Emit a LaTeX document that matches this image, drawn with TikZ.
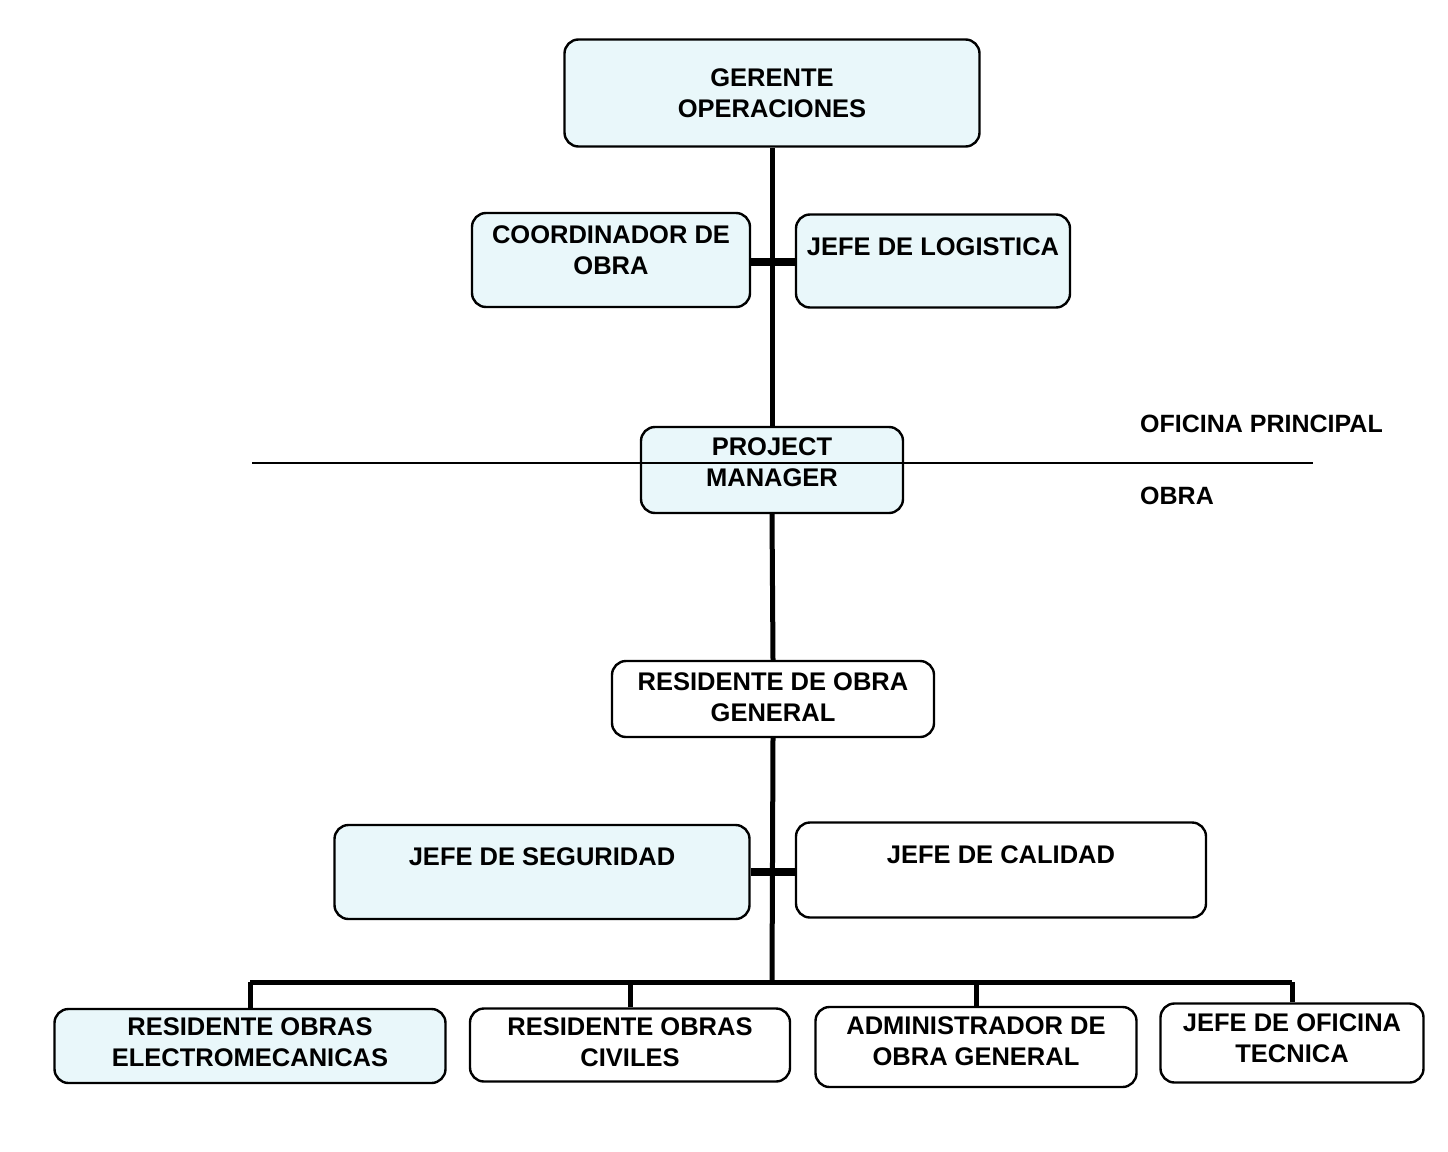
\documentclass[tikz,border=0pt]{standalone}
\usepackage{fontspec}
\setmainfont{Liberation Sans}
\usetikzlibrary{positioning}
\definecolor{celeste}{RGB}{233,247,250}

\begin{document}
\begin{tikzpicture}[x=1pt,y=-1pt,
    puesto/.style={draw, line width=2.4pt, rounded corners=14pt, inner sep=0pt,
      align=center, fill=white, font=\bfseries\fontsize{25.5}{31}\selectfont},
    azul/.style={puesto, fill=celeste},
    tronco/.style={line width=5pt},
    enlace/.style={line width=8pt},
    zona/.style={font=\bfseries\fontsize{25}{30}\selectfont, inner sep=0pt}]
  \fill[white] (0,0) rectangle (1448,1151);
  % oficina principal
  \node[azul, minimum width=415pt, minimum height=107pt] (gerente) at (772,93) {GERENTE\\OPERACIONES};
  \node[azul, minimum width=278pt, minimum height=94pt, text depth=20pt] (coord) at (611,260) {COORDINADOR DE\\OBRA};
  \node[azul, minimum width=274pt, minimum height=93pt, text depth=28pt] (logis) at (933,261) {JEFE DE LOGISTICA};
  \node[azul, minimum width=262pt, minimum height=86pt, text depth=16pt] (pm) at (772,470) {PROJECT\\MANAGER};
  % obra
  \node[puesto, minimum width=322pt, minimum height=76pt, text depth=4pt] (resgen) at (773,699) {RESIDENTE DE OBRA\\GENERAL};
  \node[azul, minimum width=415pt, minimum height=94pt, text depth=30pt] (seguridad) at (542,872) {JEFE DE SEGURIDAD};
  \node[puesto, minimum width=410pt, minimum height=95pt, text depth=30pt] (calidad) at (1001,870) {JEFE DE CALIDAD};
  \node[azul, minimum width=391pt, minimum height=74pt, text depth=8pt] (electro) at (250,1046) {RESIDENTE OBRAS\\ELECTROMECANICAS};
  \node[puesto, minimum width=320pt, minimum height=73pt, text depth=6pt] (civiles) at (630,1045) {RESIDENTE OBRAS\\CIVILES};
  \node[puesto, minimum width=321pt, minimum height=80pt, text depth=11pt] (admin) at (976,1047) {ADMINISTRADOR DE\\OBRA GENERAL};
  \node[puesto, minimum width=263pt, minimum height=79pt, text depth=10pt] (tecnica) at (1292,1043) {JEFE DE OFICINA\\TECNICA};

  \coordinate (nudo1) at (772,262);
  \coordinate (nudo2) at (772,872);
  \coordinate (barra) at (772,982);

  % lineas de mando
  \draw[tronco] (gerente.south) -- (pm.north);
  \draw[tronco] (pm.south) -- (resgen.north);
  \draw[tronco] (resgen.south) -- (barra);
  \draw[enlace] (coord.east |- nudo1) -- (nudo1);
  \draw[enlace] (logis.west |- nudo1) -- (nudo1);
  \draw[enlace] (seguridad.east |- nudo2) -- (nudo2);
  \draw[enlace] (calidad.west |- nudo2) -- (nudo2);
  \draw[tronco] (electro.north |- barra) -- (tecnica.north |- barra);
  \foreach \n in {electro,civiles,admin,tecnica}
    \draw[tronco] (\n.north) -- (\n.north |- barra);

  % division oficina / obra
  \coordinate (corte1) at (252,463);
  \coordinate (corte2) at (1313,463);
  \draw[line width=2pt] (corte1) -- (corte2);
  \node[zona, anchor=west] (oficina) at (1140,424) {OFICINA PRINCIPAL};
  \node[zona, below=72pt of oficina.west, anchor=west] (obra) {OBRA};
\end{tikzpicture}
\end{document}
